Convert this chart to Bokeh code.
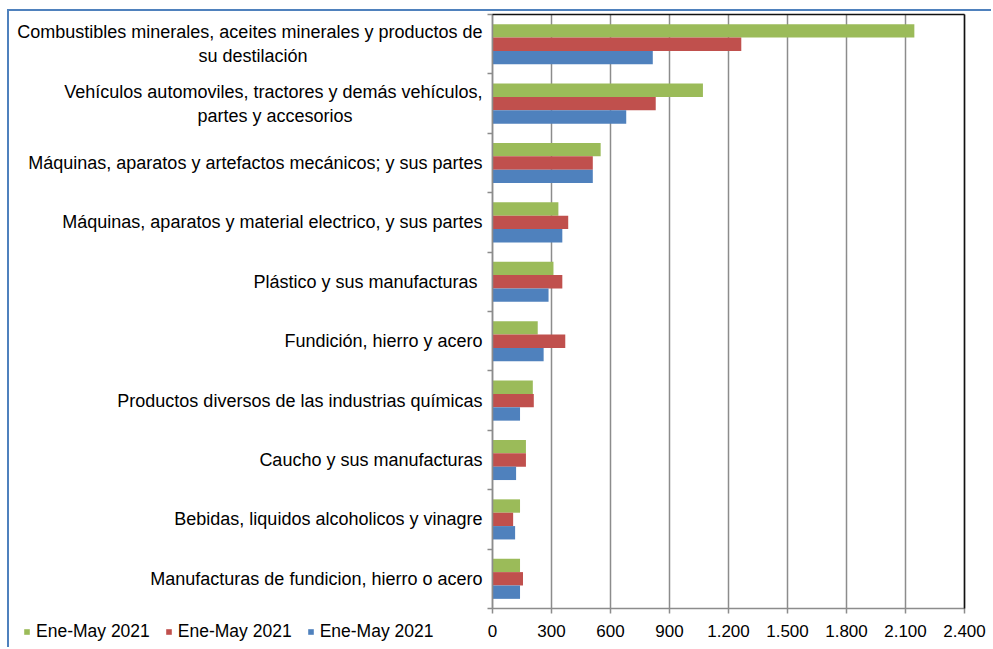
from bokeh.plotting import figure
from bokeh.models import (Range1d, FixedTicker, Legend, LegendItem, ColumnDataSource, LinearAxis)
from bokeh.transform import dodge
from bokeh.embed import file_html
from bokeh.resources import INLINE

# ---- data (top to bottom as shown) ----
categories = [
    "Combustibles minerales, aceites minerales y productos de\nsu destilación",
    "Vehículos automoviles, tractores y demás vehículos,\npartes y accesorios",
    "Máquinas, aparatos y artefactos mecánicos; y sus partes",
    "Máquinas, aparatos y material electrico, y sus partes",
    "Plástico y sus manufacturas ",
    "Fundición, hierro y acero",
    "Productos diversos de las industrias químicas",
    "Caucho y sus manufacturas",
    "Bebidas, liquidos alcoholicos y vinagre",
    "Manufacturas de fundicion, hierro o acero",
]
green_vals = [2145, 1070, 550, 335, 310, 230, 205, 170, 140, 140]
red_vals = [1265, 830, 510, 385, 355, 370, 210, 170, 105, 155]
blue_vals = [815, 680, 510, 355, 285, 260, 140, 120, 115, 140]
series_labels = ["Ene-May 2021", "Ene-May 2021", "Ene-May 2021"]
x_ticks = [0, 300, 600, 900, 1200, 1500, 1800, 2100, 2400]

FONT = "Liberation Sans"
GREEN, RED, BLUE = "#9bbb59", "#c0504d", "#4f81bd"
GRID = "#8c8c8c"
FRAME = "#111111"
NBSP = "\u00a0"
# trailing padding (in no-break spaces) that centres the 2nd line under the 1st
second_line_pad = {0: 35, 1: 26}

# layout (pixels): canvas 984x638; bar area 472x594 starting 483px from left, 3px from top
W, H = 984, 638
LEFT_PX, RIGHT_PX, TOP_PX, BOTTOM_PX = 483, 29, 3, 41
PLOT_W = W - LEFT_PX - RIGHT_PX
PLOT_H = H - TOP_PX - BOTTOM_PX

n = len(categories)
ypos = [n - 1 - i + 0.5 for i in range(n)]  # category centres, first at top
src = ColumnDataSource(dict(y=ypos, g=green_vals, r=red_vals, b=blue_vals))

display_labels = []
for i, c in enumerate(categories):
    if "\n" in c:
        a, b = c.split("\n")
        c = a + "\n" + b + NBSP * second_line_pad.get(i, 0)
    display_labels.append(c)

x0, x1 = x_ticks[0], x_ticks[-1]
xpp = (x1 - x0) / PLOT_W
ypp = n / PLOT_H
p = figure(width=W, height=H, output_backend="svg", toolbar_location=None,
           x_range=Range1d(x0 - LEFT_PX * xpp, x1 + RIGHT_PX * xpp),
           y_range=Range1d(-BOTTOM_PX * ypp, n + TOP_PX * ypp),
           min_border_left=0, min_border_right=0, min_border_top=0, min_border_bottom=0)
p.styles = {"margin-left": "7px", "margin-top": "9px",
            "border-top": "2px solid #4f81bd", "border-left": "2px solid #4f81bd"}
p.outline_line_color = None
p.xgrid.visible = False
p.ygrid.visible = False

bh = 0.225
rg = p.hbar(y=dodge("y", bh), right="g", left=0, height=bh, source=src,
            fill_color=GREEN, line_color=None)
rr = p.hbar(y=dodge("y", 0), right="r", left=0, height=bh, source=src,
            fill_color=RED, line_color=None)
rb = p.hbar(y=dodge("y", -bh), right="b", left=0, height=bh, source=src,
            fill_color=BLUE, line_color=None)

# x axis (its inward ticks double as the vertical grid lines)
xa = p.xaxis[0]
xa.fixed_location = 0
xa.bounds = (x0, x1)
xa.level = "underlay"
xa.ticker = FixedTicker(ticks=x_ticks)
xa.major_label_overrides = {t: f"{t:,}".replace(",", ".") for t in x_ticks}
xa.axis_line_color = GRID
xa.axis_line_width = 1.5
xa.major_tick_line_color = GRID
xa.major_tick_line_width = 1.5
xa.major_tick_out = 5
xa.major_tick_in = PLOT_H
xa.minor_tick_line_color = None
xa.major_label_standoff = 11
xa.major_label_text_font = FONT
xa.major_label_text_font_size = "17px"
xa.major_label_text_color = "black"

# y axis: labels at category centres, ticks at boundaries
ya = p.yaxis[0]
ya.fixed_location = 0
ya.bounds = (0, n)
ya.ticker = FixedTicker(ticks=ypos, minor_ticks=list(range(n + 1)))
ya.major_label_overrides = {y: c for y, c in zip(ypos, display_labels)}
ya.major_tick_line_color = None
ya.minor_tick_out = 5
ya.minor_tick_in = 0
ya.minor_tick_line_color = GRID
ya.minor_tick_line_width = 1.5
ya.axis_line_color = GRID
ya.axis_line_width = 1.5
ya.major_label_standoff = 4
ya.major_label_text_font = FONT
ya.major_label_text_font_size = "18px"
ya.major_label_text_color = "black"

# dark frame edges: right edge = axis line, top edge = one inward tick at the top
right_edge = LinearAxis(fixed_location=x1, bounds=(0, n), ticker=FixedTicker(ticks=[n]),
                        major_label_text_font_size="0px", major_label_text_alpha=0,
                        major_label_overrides={n: " "},
                        axis_line_color=FRAME, axis_line_width=1.5,
                        major_tick_line_color=FRAME, major_tick_line_width=1.5,
                        major_tick_in=PLOT_W, major_tick_out=0,
                        minor_tick_line_color=None)
p.add_layout(right_edge, "right")

legend = Legend(items=[LegendItem(label=series_labels[0], renderers=[rg]),
                       LegendItem(label=series_labels[1], renderers=[rr]),
                       LegendItem(label=series_labels[2], renderers=[rb])],
                orientation="horizontal", location=(14, 7),
                glyph_width=7, glyph_height=7, label_standoff=6, spacing=15,
                padding=0, margin=0, border_line_color=None, background_fill_alpha=0,
                label_text_font=FONT, label_text_font_size="17.5px", label_height=17,
                label_text_color="black")
p.add_layout(legend)

open("out.html", "w").write(file_html(p, INLINE))
